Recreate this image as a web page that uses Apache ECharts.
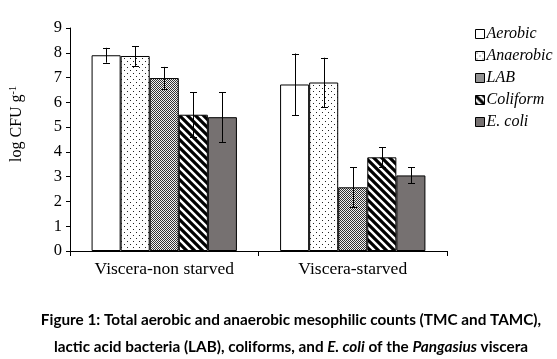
<!DOCTYPE html>
<html><head><meta charset="utf-8">
<script src="https://cdn.jsdelivr.net/npm/echarts@6/dist/echarts.min.js"></script>
<style>html,body{margin:0;padding:0;background:#fff}#c{width:557px;height:359px}</style>
</head><body><div id="c"></div>
<script>
const categories = ['Viscera-non starved', 'Viscera-starved'];
const seriesNames = ['Aerobic', 'Anaerobic', 'LAB', 'Coliform', 'E. coli'];
const aerobic = [7.9, 6.72];
const anaerobic = [7.87, 6.8];
const lab = [6.98, 2.57];
const coliform = [5.5, 3.78];
const ecoli = [5.4, 3.05];
const aerobicErr = [0.3, 1.25];
const anaerobicErr = [0.4, 1.0];
const labErr = [0.45, 0.8];
const coliformErr = [0.9, 0.4];
const ecoliErr = [1.0, 0.32];
const yTicks = [0, 1, 2, 3, 4, 5, 6, 7, 8, 9];

const values = [aerobic, anaerobic, lab, coliform, ecoli];
const errs = [aerobicErr, anaerobicErr, labErr, coliformErr, ecoliErr];

function mk(w, h, draw) {
  const c = document.createElement('canvas'); c.width = w; c.height = h;
  const g = c.getContext('2d'); g.fillStyle = '#fff'; g.fillRect(0, 0, w, h); draw(g); return c;
}
const pDots = mk(6, 6, g => { g.fillStyle = '#222'; g.fillRect(1, 1, 1, 1); g.fillRect(4, 4, 1, 1); });
const pCheck = mk(2, 2, g => { g.fillStyle = '#333'; g.fillRect(0, 0, 1, 1); g.fillRect(1, 1, 1, 1); g.fillStyle = '#f2f2f2'; g.fillRect(1, 0, 1, 1); g.fillRect(0, 1, 1, 1); });
const pStripe = mk(8, 8, g => {
  g.strokeStyle = '#000'; g.lineWidth = 3.2;
  g.beginPath(); g.moveTo(-8, -8); g.lineTo(16, 16); g.moveTo(-8, 0); g.lineTo(8, 16); g.moveTo(0, -8); g.lineTo(16, 8); g.stroke();
});
const fills = ['#ffffff', {image: pDots, repeat: 'repeat'}, {image: pCheck, repeat: 'repeat'}, {image: pStripe, repeat: 'repeat'}, '#767171'];

const GAP = 0.229;
const serif = 'Liberation Serif';
const series = [];
values.forEach((v, i) => {
  series.push({
    name: seriesNames[i], type: 'bar', data: v, barGap: '0%', barCategoryGap: (GAP * 100) + '%',
    itemStyle: {color: fills[i], borderColor: '#000', borderWidth: 1}
  });
});
values.forEach((v, i) => {
  series.push({
    type: 'custom', silent: true, z: 10,
    data: v.map((val, k) => [k, val - errs[i][k], val + errs[i][k]]),
    renderItem: function (params, api) {
      const band = api.size([1, 0])[0];
      const bw = band * (1 - GAP) / 5;
      const c = api.coord([api.value(0), 0]);
      const x = Math.round(c[0] + (i - 2) * bw) + 0.5;
      const lo = api.coord([api.value(0), api.value(1)])[1];
      const hi = api.coord([api.value(0), api.value(2)])[1];
      const st = {stroke: '#000', lineWidth: 1};
      return {type: 'group', children: [
        {type: 'line', shape: {x1: x, y1: lo, x2: x, y2: hi}, style: st},
        {type: 'line', shape: {x1: x - 3.5, y1: Math.round(lo) + 0.5, x2: x + 3.5, y2: Math.round(lo) + 0.5}, style: st},
        {type: 'line', shape: {x1: x - 3.5, y1: Math.round(hi) + 0.5, x2: x + 3.5, y2: Math.round(hi) + 0.5}, style: st}
      ]};
    }
  });
});

const chart = echarts.init(document.getElementById('c'), null, {renderer: 'canvas'});
chart.setOption({
  animation: false,
  grid: {left: 70, right: 110, top: 28, bottom: 108},
  legend: {
    orient: 'vertical', left: 470, top: 21, itemWidth: 9, itemHeight: 9, itemGap: 6, icon: 'rect',
    data: seriesNames,
    textStyle: {fontFamily: serif, fontStyle: 'italic', fontSize: 16, color: '#000', padding: [0, 0, 0, -3]},
    itemStyle: {borderColor: '#000', borderWidth: 1}
  },
  xAxis: {
    type: 'category', data: categories,
    axisLine: {lineStyle: {color: '#000', width: 1}},
    axisTick: {show: true, length: 5, lineStyle: {color: '#000'}},
    axisLabel: {fontFamily: serif, fontSize: 17.5, color: '#000', margin: 9}
  },
  yAxis: {
    type: 'value', min: yTicks[0], max: yTicks[yTicks.length - 1], interval: 1,
    axisLine: {show: true, lineStyle: {color: '#000'}},
    axisTick: {show: true, length: 4, lineStyle: {color: '#000'}},
    splitLine: {show: false},
    axisLabel: {fontFamily: serif, fontSize: 16.5, color: '#000', margin: 8}
  },
  graphic: [
    {type: 'text', x: 17, y: 124, rotation: Math.PI / 2, style: {
      text: '{a|log CFU g}{s|-1}', align: 'center', verticalAlign: 'middle',
      rich: {a: {fontFamily: serif, fontSize: 16, fill: '#000'}, s: {fontFamily: serif, fontSize: 10, fill: '#000', verticalAlign: 'top', padding: [0, 0, 8, 0]}}
    }},
    {type: 'text', x: 291, y: 320, style: {text: 'Figure 1: Total aerobic and anaerobic mesophilic counts (TMC and TAMC),', font: 'bold 15.3px Lato', fill: '#000', align: 'center', verticalAlign: 'middle'}},
    {type: 'text', x: 291, y: 347, style: {
      text: 'lactic acid bacteria (LAB), coliforms, and {i|E. coli} of the {i|Pangasius} viscera',
      font: 'bold 15.3px Lato', fill: '#000', align: 'center', verticalAlign: 'middle',
      rich: {i: {fontFamily: 'Lato', fontWeight: 'bold', fontStyle: 'italic', fontSize: 15.3, fill: '#000'}}
    }}
  ],
  series: series
});
</script></body></html>
